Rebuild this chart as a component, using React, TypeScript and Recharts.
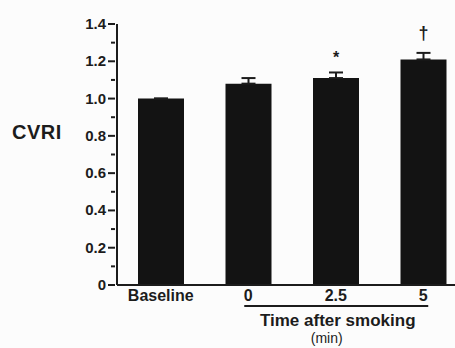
import { Bar, BarChart, ErrorBar, LabelList, XAxis, YAxis } from "recharts";

const CATEGORIES = ["Baseline", "0", "2.5", "5"];
const CVRI_VALUES = [1.0, 1.08, 1.11, 1.21];
const CVRI_SEM = [0, 0.03, 0.03, 0.035];
const MARKERS = ["", "", "*", "\u2020"];
const Y_TICKS = [0, 0.1, 0.2, 0.3, 0.4, 0.5, 0.6, 0.7, 0.8, 0.9, 1.0, 1.1, 1.2, 1.3, 1.4];

const data = CATEGORIES.map((name, i) => ({
  name,
  cvri: CVRI_VALUES[i],
  err: [0, CVRI_SEM[i]],
  marker: MARKERS[i],
}));

const INK = "#1c1c1c";
const FONT = "'Liberation Sans', Arial, Helvetica, sans-serif";

function YTick(props: any) {
  const { x, y, payload } = props;
  const v = payload.value;
  const major = Math.round(v * 10) % 2 === 0;
  const label = v === 0 ? "0" : v.toFixed(1);
  return (
    <g>
      <line
        x1={x - (major ? 7 : 4)}
        x2={x}
        y1={y}
        y2={y}
        stroke={INK}
        strokeWidth={2}
      />
      {major && (
        <text
          x={x - 9}
          y={y + 5}
          textAnchor="end"
          fontSize={15}
          fontWeight="bold"
          fontFamily={FONT}
          fill={INK}
        >
          {label}
        </text>
      )}
    </g>
  );
}

function XTick(props: any) {
  const { x, y, payload } = props;
  return (
    <text
      x={x}
      y={y + 16}
      textAnchor="middle"
      fontSize={16}
      fontWeight="bold"
      fontFamily={FONT}
      fill={INK}
    >
      {payload.value}
    </text>
  );
}

function TimeLabel(props: any) {
  const { x, y, width } = props.viewBox;
  const band = width / CATEGORIES.length;
  const c1 = x + band * 1.5;
  const c3 = x + band * 3.5;
  const mid = (c1 + c3) / 2;
  return (
    <g>
      <line x1={c1 - 4} x2={c3 + 5} y1={y + 21} y2={y + 21} stroke={INK} strokeWidth={2} />
      <text
        x={mid + 2}
        y={y + 41}
        textAnchor="middle"
        fontSize={17}
        fontWeight="bold"
        fontFamily={FONT}
        fill={INK}
      >
        Time after smoking
      </text>
      <text
        x={mid - 9}
        y={y + 58}
        textAnchor="middle"
        fontSize={14}
        fontFamily={FONT}
        fill={INK}
      >
        (min)
      </text>
    </g>
  );
}

function CvriLabel(props: any) {
  const { y, height } = props.viewBox;
  return (
    <text
      x={12}
      y={y + height * 0.415 + 7}
      fontSize={20}
      fontWeight="bold"
      letterSpacing={0.5}
      fontFamily={FONT}
      fill={INK}
    >
      CVRI
    </text>
  );
}

function MarkerLabel(props: any) {
  const { x, y, width, value } = props;
  if (!value) return null;
  const dagger = value === "\u2020";
  return (
    <text
      x={x + width / 2}
      y={dagger ? y - 20 : y - 15}
      textAnchor="middle"
      fontSize={dagger ? 18 : 16}
      fontWeight="bold"
      fontFamily={FONT}
      fill={INK}
    >
      {value}
    </text>
  );
}

export default function App() {
  return (
    <div
      style={{
        position: "absolute",
        left: 0,
        top: 0,
        width: 455,
        height: 348,
        overflow: "hidden",
        background: "#fcfcfc",
      }}
    >
      <BarChart
        width={467}
        height={348}
        data={data}
        margin={{ top: 24, right: 0, bottom: 0, left: 0 }}
        barSize={46}
      >
        <XAxis
          dataKey="name"
          height={63}
          tickSize={0}
          tickMargin={0}
          tickLine={false}
          axisLine={{ stroke: INK, strokeWidth: 2 }}
          tick={<XTick />}
          interval={0}
          label={<TimeLabel />}
        />
        <YAxis
          width={117}
          domain={[0, 1.4]}
          ticks={Y_TICKS}
          interval={0}
          tickLine={false}
          tickSize={0}
          axisLine={{ stroke: INK, strokeWidth: 2 }}
          tick={<YTick />}
          label={<CvriLabel />}
        />
        <Bar dataKey="cvri" fill="#131313" isAnimationActive={false}>
          <ErrorBar
            dataKey="err"
            direction="y"
            width={7}
            stroke={INK}
            strokeWidth={2}
            isAnimationActive={false}
          />
          <LabelList dataKey="marker" content={<MarkerLabel />} />
        </Bar>
      </BarChart>
    </div>
  );
}
